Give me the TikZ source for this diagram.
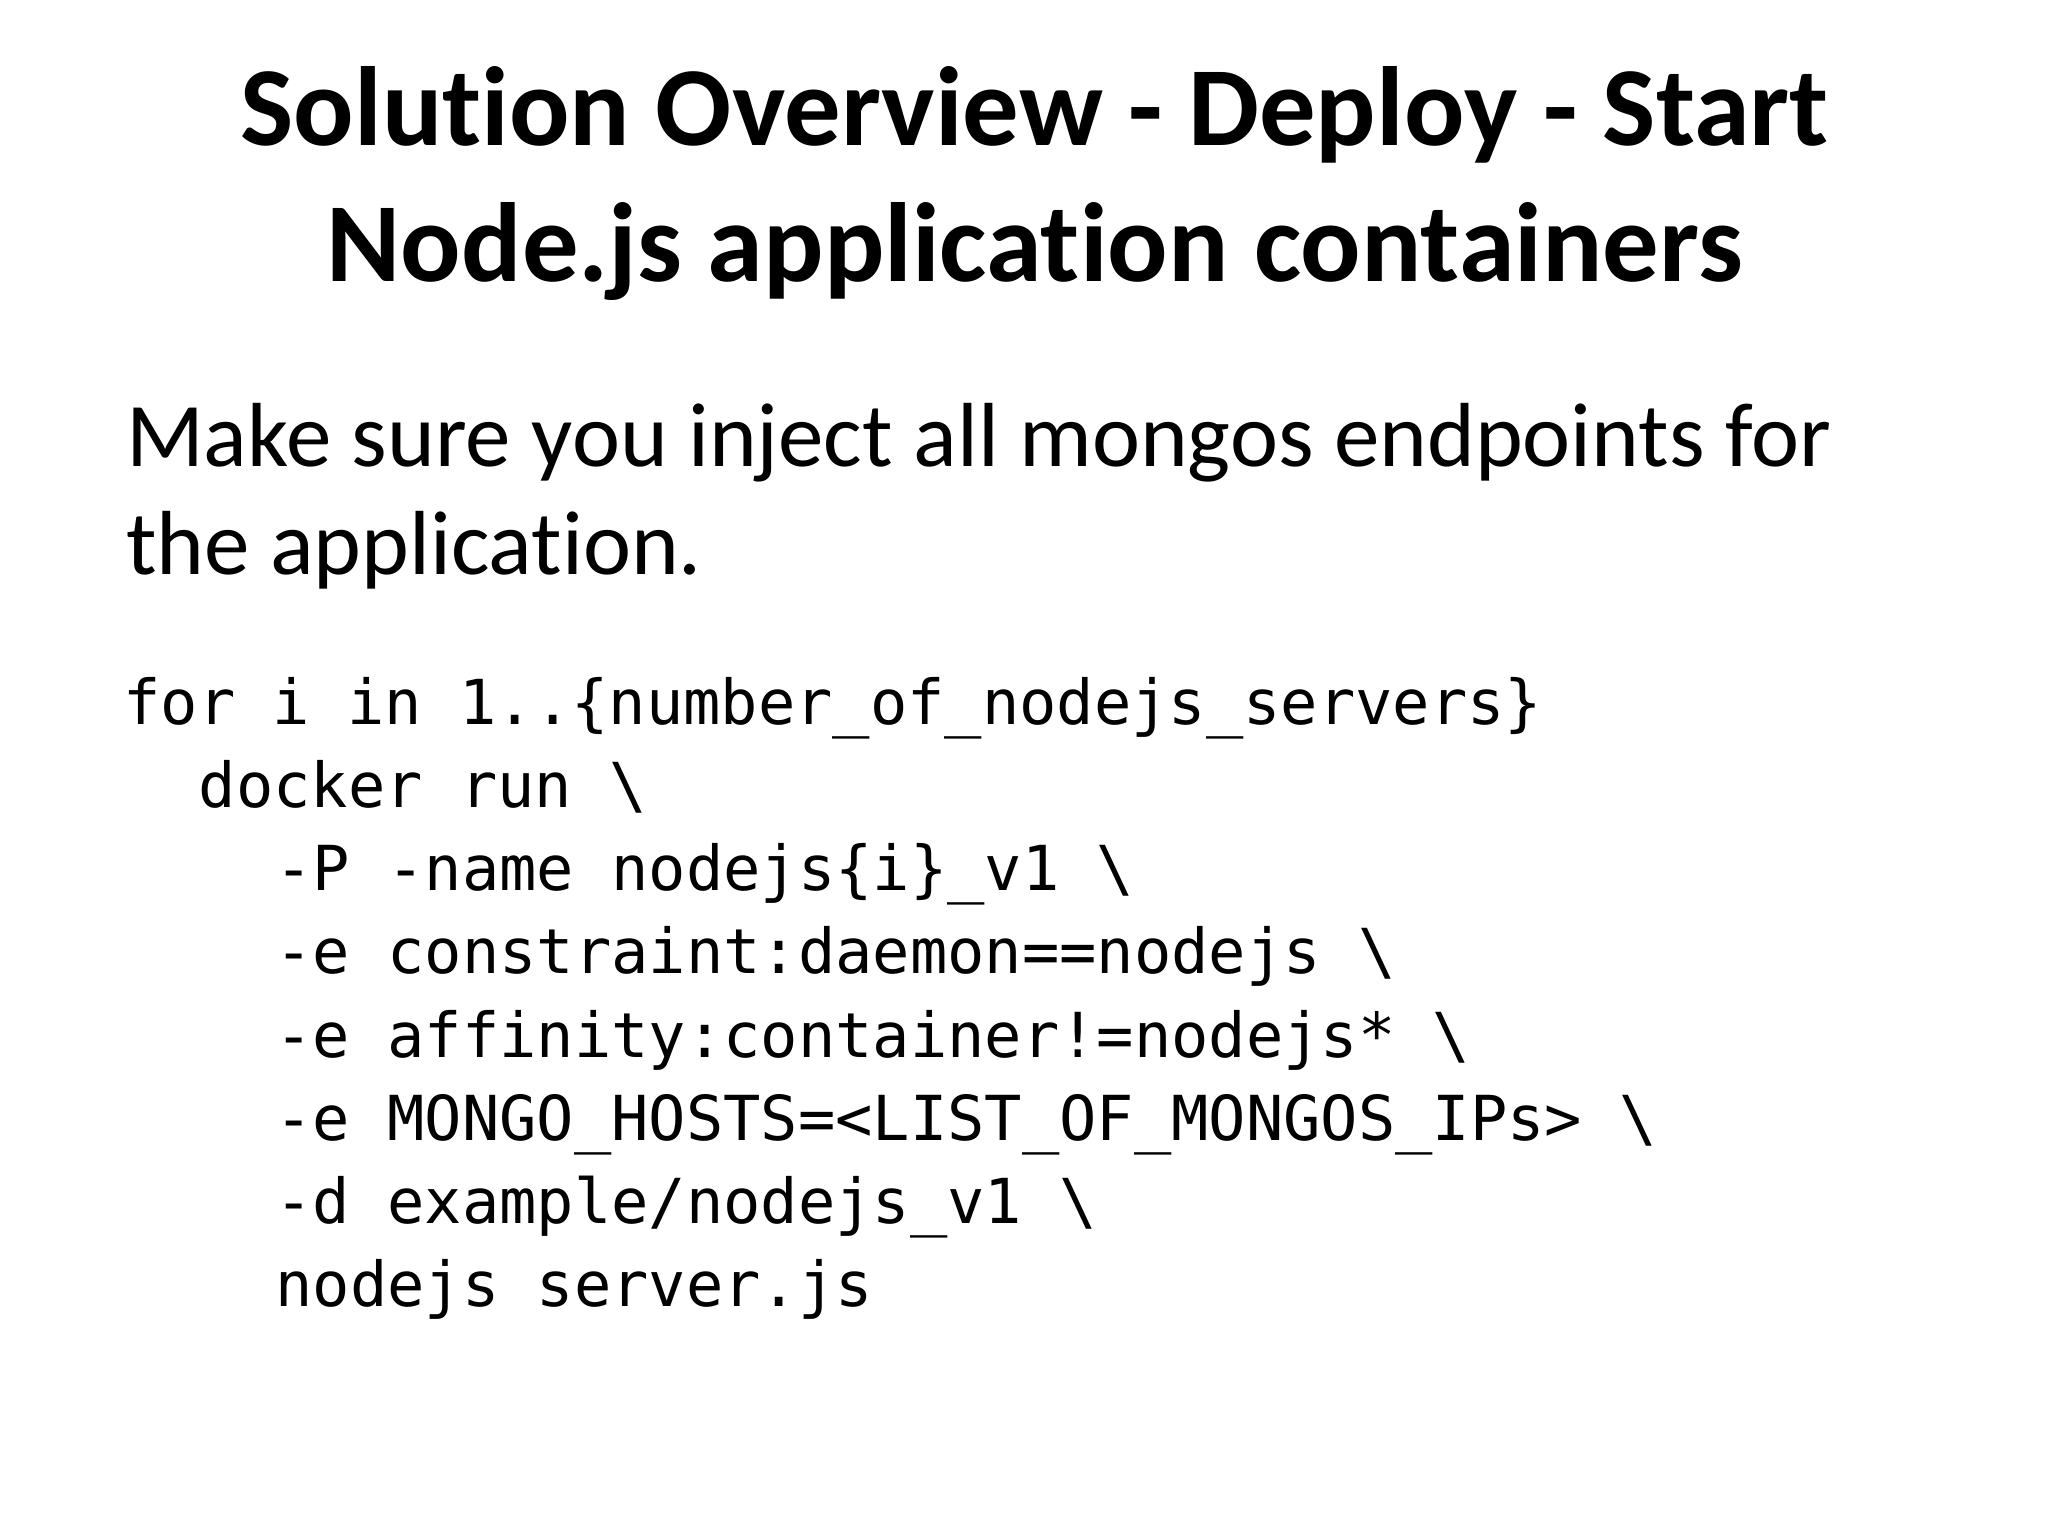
\documentclass[tikz,border=0pt]{standalone}
\usepackage{fontspec}
\setmainfont[Ligatures=NoCommon]{Carlito}
\newfontfamily\codefont{DejaVu Sans Mono}
\begin{document}
\begin{tikzpicture}[x=0.4645pt,y=-0.4645pt,
  title/.style={anchor=base,font=\fontsize{39.6}{40}\selectfont\bfseries,inner sep=0},
  body/.style={anchor=base west,font=\fontsize{32}{32}\selectfont,inner sep=0},
  code/.style={anchor=base west,font=\codefont\fontsize{21.8}{22}\selectfont,inner sep=0}]
\useasboundingbox[fill=white] (0,0) rectangle (1550,1162.5);
\node[title] (t1) at (783,110) {Solution Overview - Deploy - Start};
\node[title] (t2) at (783,213) {Node.js application containers};
\node[body] (b1) at (95,353) {Make sure you inject all mongos endpoints for};
\node[body] (b2) at (95,435) {the application.};
\node[code] (c1) at (93,548) {for i in 1..\{number\_of\_nodejs\_servers\}};
\node[code] (c2) at (150,611) {docker run \textbackslash};
\node[code] (c3) at (208,674) {-P -name nodejs\{i\}\_v1 \textbackslash};
\node[code] (c4) at (208,737) {-e constraint:daemon==nodejs \textbackslash};
\node[code] (c5) at (208,800) {-e affinity:container!=nodejs* \textbackslash};
\node[code] (c6) at (208,863) {-e MONGO\_HOSTS=<LIST\_OF\_MONGOS\_IPs> \textbackslash};
\node[code] (c7) at (208,926) {-d example/nodejs\_v1 \textbackslash};
\node[code] (c8) at (208,989) {nodejs server.js};
\end{tikzpicture}
\end{document}
